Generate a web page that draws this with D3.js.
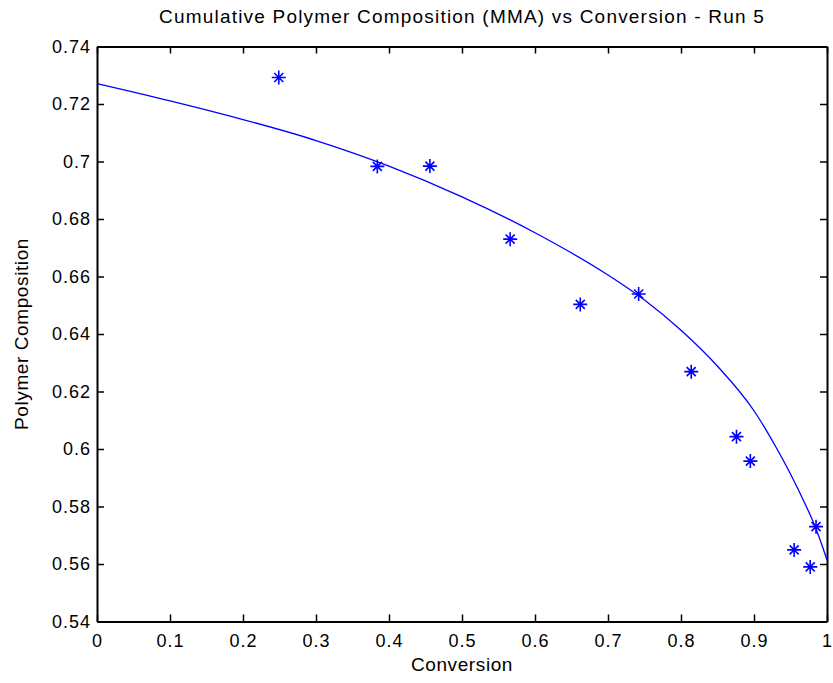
<html>
<script src="https://d3js.org/d3.v7.min.js"></script>
<body style="margin:0;background:#fff">
<svg width="833" height="683"></svg>
<script>
// measured data (asterisks)
var convData = [0.249, 0.384, 0.456, 0.566, 0.662, 0.742, 0.814, 0.876, 0.895, 0.955, 0.977, 0.985];
var compData = [0.7292, 0.6983, 0.6984, 0.6730, 0.6503, 0.6539, 0.6269, 0.6043, 0.5958, 0.5649, 0.5590, 0.5730];

// model curve
var convModel = [0, 0.1, 0.2, 0.3, 0.4, 0.5, 0.6, 0.7, 0.75, 0.8, 0.85, 0.9, 0.93, 0.95, 0.97, 0.98, 0.99, 1.0];
var compModel = [0.7271, 0.7211, 0.7146, 0.7073, 0.6984, 0.6877, 0.6752, 0.6605, 0.6518, 0.6413, 0.6288, 0.6133, 0.6007, 0.5913, 0.5809, 0.5753, 0.5688, 0.5614];

var xTicks = [0, 0.1, 0.2, 0.3, 0.4, 0.5, 0.6, 0.7, 0.8, 0.9, 1];
var yTicks = [0.54, 0.56, 0.58, 0.6, 0.62, 0.64, 0.66, 0.68, 0.7, 0.72, 0.74];

var svg = d3.select("svg");
var plotL = 97, plotR = 827, plotT = 46.5, plotB = 621.5;
var font = "'Liberation Sans', Arial, Helvetica, sans-serif";

var x = d3.scaleLinear().domain([0, 1]).range([plotL, plotR]);
var y = d3.scaleLinear().domain([0.54, 0.74]).range([plotB, plotT]);

//------------------------axes------------------------//
var fmt = function(d) { return String(+d.toFixed(2)); };
var tl = 7;

svg.append("g").attr("transform", "translate(0," + plotB + ")")
  .call(d3.axisBottom(x).tickValues(xTicks).tickFormat(fmt).tickSizeInner(-tl).tickSizeOuter(0).tickPadding(13));
svg.append("g").attr("transform", "translate(0," + plotT + ")")
  .call(d3.axisTop(x).tickValues(xTicks).tickFormat("").tickSizeInner(-tl).tickSizeOuter(0));
svg.append("g").attr("transform", "translate(" + plotL + ",0)")
  .call(d3.axisLeft(y).tickValues(yTicks).tickFormat(fmt).tickSizeInner(-tl).tickSizeOuter(0).tickPadding(6));
svg.append("g").attr("transform", "translate(" + plotR + ",0)")
  .call(d3.axisRight(y).tickValues(yTicks).tickFormat("").tickSizeInner(-tl).tickSizeOuter(0));

svg.selectAll(".domain").attr("stroke", "#000").attr("stroke-width", 2);
svg.selectAll(".tick line").attr("stroke", "#000").attr("stroke-width", 1.5);
svg.selectAll(".tick text")
  .style("font-family", font).style("font-size", "18px").style("letter-spacing", "1px")
  .attr("fill", "#000");

//------------------------titles------------------------//
svg.append("text")
  .attr("x", (plotL + plotR) / 2).attr("y", 23)
  .attr("text-anchor", "middle")
  .style("font-family", font).style("font-size", "19px").style("letter-spacing", "1.2px")
  .text("Cumulative Polymer Composition (MMA) vs Conversion - Run 5");

svg.append("text")
  .attr("x", (plotL + plotR) / 2).attr("y", 671)
  .attr("text-anchor", "middle")
  .style("font-family", font).style("font-size", "19px").style("letter-spacing", "0.6px")
  .text("Conversion");

svg.append("text")
  .attr("transform", "translate(28," + ((plotT + plotB) / 2) + ") rotate(-90)")
  .attr("text-anchor", "middle")
  .style("font-family", font).style("font-size", "19px").style("letter-spacing", "0.6px")
  .text("Polymer Composition");

//------------------------model line------------------------//
var modelPts = convModel.map(function(c, i) { return [c, compModel[i]]; });
var line = d3.line()
  .x(function(d) { return x(d[0]); })
  .y(function(d) { return y(d[1]); })
  .curve(d3.curveMonotoneX);

svg.append("path")
  .datum(modelPts)
  .attr("d", line)
  .attr("fill", "none")
  .attr("stroke", "#0000ff")
  .attr("stroke-width", 1.3);

//------------------------asterisk markers------------------------//
var dataPts = convData.map(function(c, i) { return [c, compData[i]]; });
var s = 7, d2 = 4.5;
var star = "M" + (-s) + ",0H" + s + "M0," + (-s) + "V" + s +
  "M" + (-d2) + "," + (-d2) + "L" + d2 + "," + d2 +
  "M" + (-d2) + "," + d2 + "L" + d2 + "," + (-d2);

svg.append("g")
  .selectAll("path")
  .data(dataPts)
  .enter()
  .append("path")
  .attr("transform", function(d) { return "translate(" + x(d[0]) + "," + y(d[1]) + ")"; })
  .attr("d", star)
  .attr("fill", "none")
  .attr("stroke", "#0000ff")
  .attr("stroke-width", 1.6);
</script>
</body>
</html>
